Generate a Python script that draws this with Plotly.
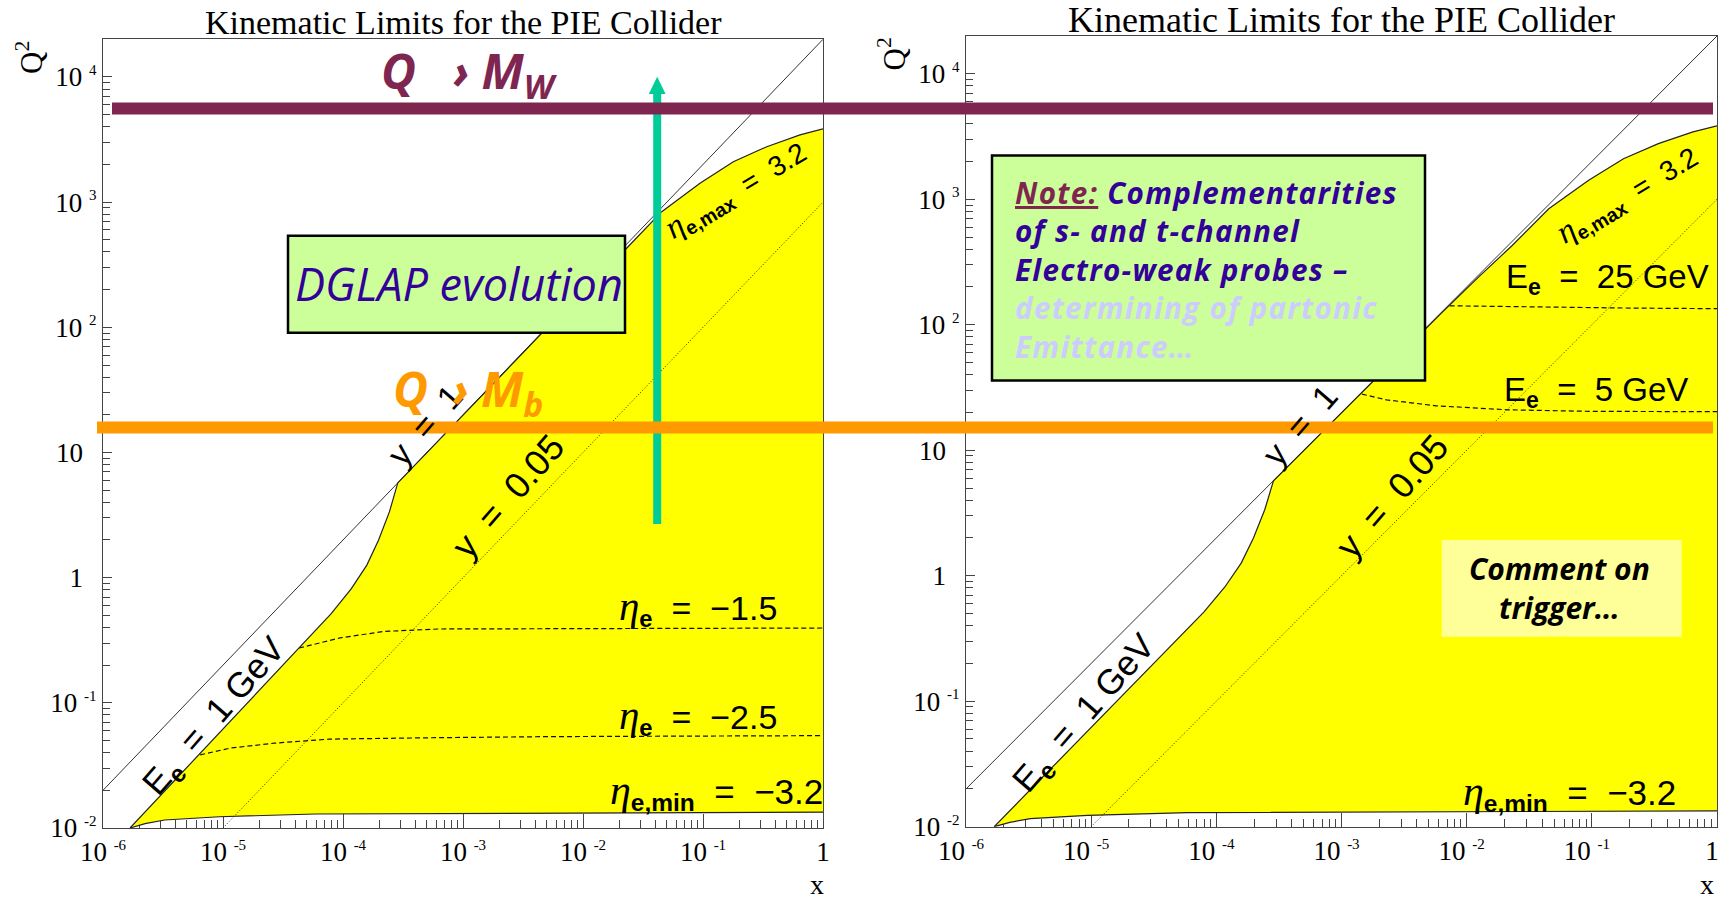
import plotly.graph_objects as go

W, H = 1722, 900
NBSP = "\u00a0"

# ---------------- kinematic curves (x, Q^2 in GeV^2) ----------------
# y = 1 limit and the y = 0.05 line
y1_x = [1e-6, 1.0]
y1_q2 = [0.02, 2.0e4]
y005_x = [1e-5, 1.0]
y005_q2 = [0.01, 1.0e3]

# low scattered-electron-energy edge (E_e = 1 GeV)
ecut_x = [1.68e-6, 3.98e-6, 1.0e-5, 2.51e-5, 4.30e-5, 7.94e-5, 1.17e-4, 1.58e-4, 1.98e-4, 2.44e-4, 2.86e-4]
ecut_q2 = [0.0100, 0.0241, 0.0617, 0.158, 0.275, 0.513, 0.813, 1.26, 2.00, 3.37, 5.71]

# upper edge: along y = 1, then the eta_max = 3.2 curve
etamax_x = [2.86e-4, 6.31e-3, 0.0126, 0.0231, 0.0453, 0.0944, 0.179, 0.340, 0.643, 1.0]
etamax_q2 = [5.71, 124.5, 243.0, 428.0, 839.0, 1416.0, 2104.0, 2773.0, 3443.0, 3846.0]

# lower edge: eta_min = -3.2 curve (from x = 1 back to the tip)
etamin_x = [1.0, 1e-3, 5.89e-5, 9.33e-6, 3.26e-6, 2.24e-6, 1.68e-6]
etamin_q2 = [0.01337, 0.01318, 0.01294, 0.0123, 0.01159, 0.01084, 0.0100]

# eta_e contours
eta15_x = [4.30e-5, 9.44e-5, 2.20e-4, 6.31e-4, 1.0]
eta15_q2 = [0.274, 0.330, 0.372, 0.389, 0.396]
eta25_x = [6.46e-6, 1.15e-5, 2.67e-5, 7.66e-5, 6.28e-4, 5.15e-3, 1.0]
eta25_q2 = [0.0384, 0.0435, 0.0476, 0.0513, 0.0527, 0.0537, 0.0547]

# scattered electron energy contours
ee25_x = [7.31e-3, 0.0428, 0.200, 1.0]
ee25_q2 = [141.6, 138.0, 135.8, 134.3]
ee5_x = [1.455e-3, 2.29e-3, 5.69e-3, 0.0211, 0.100, 1.0]
ee5_q2 = [28.0, 25.2, 22.6, 21.0, 20.4, 20.3]

# axis ticks
x_tick_vals = [1e-6, 1e-5, 1e-4, 1e-3, 1e-2, 1e-1, 1.0]
x_tick_text = ["10^-6", "10^-5", "10^-4", "10^-3", "10^-2", "10^-1", "1"]
y_tick_vals = [1e-2, 1e-1, 1.0, 10.0, 1e2, 1e3, 1e4]
y_tick_text = ["10^-2", "10^-1", "1", "10", "10^2", "10^3", "10^4"]


def rich(label, pad=""):
    if "^" in label:
        base, exp = label.split("^")
        return f"{base}{NBSP}<sup><span style='font-size:15px'>{exp}</span></sup>"
    return label + pad


def px(v):
    return v / W


def py(v):
    return 1 - v / H


x_minor = [m * 10.0 ** e for e in range(-6, 0) for m in range(2, 10)]
y_minor = [m * 10.0 ** e for e in range(-2, 5) for m in range(2, 10) if m * 10.0 ** e < 2.0e4]

accept_x = ecut_x + etamax_x[1:] + etamin_x
accept_q2 = ecut_q2 + etamax_q2[1:] + etamin_q2

fig = go.Figure()


def add_panel(xa, ya, contours):
    common = dict(xaxis=xa, yaxis=ya, hoverinfo="skip", showlegend=False)
    fig.add_trace(go.Scatter(x=accept_x, y=accept_q2, mode="lines", fill="toself",
                             fillcolor="#ffff00", line=dict(width=0, color="rgba(0,0,0,0)"), **common))
    for cx, cy in contours:
        fig.add_trace(go.Scatter(x=cx, y=cy, mode="lines",
                                 line=dict(color="#111", width=1.2, dash="5px,3px"), **common))
    fig.add_trace(go.Scatter(x=y005_x, y=y005_q2, mode="lines",
                             line=dict(color="#222", width=1, dash="1px,2px"), **common))
    fig.add_trace(go.Scatter(x=y1_x, y=y1_q2, mode="lines",
                             line=dict(color="#333", width=1), **common))
    fig.add_trace(go.Scatter(x=ecut_x + etamax_x[1:], y=ecut_q2 + etamax_q2[1:], mode="lines",
                             line=dict(color="#222", width=1.2), **common))
    fig.add_trace(go.Scatter(x=etamin_x, y=etamin_q2, mode="lines",
                             line=dict(color="#222", width=1.2), **common))


add_panel("x", "y", [(eta15_x, eta15_q2), (eta25_x, eta25_q2)])
add_panel("x2", "y2", [(ee25_x, ee25_q2), (ee5_x, ee5_q2)])


def axis_style(vals, text, minor_vals, ticklen, minorlen, pad=""):
    return dict(
        type="log", showgrid=False, zeroline=False, showline=True, mirror=True,
        automargin=False, ticklabeloverflow="allow",
        linecolor="#444", linewidth=1, ticks="inside", ticklen=ticklen, tickwidth=1,
        tickcolor="#444", layer="below traces", tickmode="array", tickvals=vals,
        ticktext=[rich(t, pad) for t in text],
        tickfont=dict(family="Liberation Serif", size=27, color="black"),
        minor=dict(ticks="inside", ticklen=minorlen, tickwidth=1, tickcolor="#444",
                   tickvals=minor_vals, showgrid=False),
    )


xl = axis_style(x_tick_vals, x_tick_text, x_minor, 14, 8)
yl = axis_style(y_tick_vals, y_tick_text, y_minor, 9, 7, pad=NBSP * 2)
fig.update_layout(
    xaxis=dict(xl, domain=[px(103), px(823)], range=[-6, 0], anchor="y"),
    yaxis=dict(yl, domain=[py(828), py(39.3)], range=[-2, 4.301], anchor="x"),
    xaxis2=dict(xl, domain=[px(966), px(1717)], range=[-6, 0], anchor="y2", ticklabelshift=-5),
    yaxis2=dict(yl, domain=[py(826.7), py(36)], range=[-2, 4.301], anchor="x2"),
)

# ---------------- overlay boxes, arrow and threshold bands ----------------
shapes = []


def rect(x0, y0, x1, y1, fill, lw):
    shapes.append(dict(type="rect", xref="paper", yref="paper", x0=px(x0), x1=px(x1),
                       y0=py(y1), y1=py(y0), fillcolor=fill,
                       line=dict(color="black", width=lw), layer="above"))


def hline(x0, x1, y, color, lw):
    shapes.append(dict(type="line", xref="paper", yref="paper", x0=px(x0), x1=px(x1),
                       y0=py(y), y1=py(y), line=dict(color=color, width=lw), layer="above"))


rect(288, 235.7, 625, 332.7, "#ccff99", 2.5)
rect(992, 155.5, 1425, 380.5, "#ccff99", 2.5)
rect(1441.7, 540, 1681.7, 636.7, "#ffff99", 0)

# upward arrow
shapes.append(dict(type="line", xref="paper", yref="paper", x0=px(657.2), x1=px(657.2),
                   y0=py(524), y1=py(92), line=dict(color="#00cc99", width=8), layer="above"))
shapes.append(dict(type="path", xref="paper", yref="paper",
                   path=f"M {px(657.2)},{py(76.7)} L {px(648.8)},{py(94)} L {px(665.6)},{py(94)} Z",
                   fillcolor="#00cc99", line=dict(width=0), layer="above"))

hline(112, 1713, 108.5, "#7f2650", 12)
hline(97, 1713, 427.5, "#ff9900", 12)

fig.update_layout(shapes=shapes)

# ---------------- text ----------------
anns = []


def text(x, y, s, size, color="black", family="Liberation Sans", angle=0, xanchor="center",
         yanchor="middle", align="center"):
    anns.append(dict(x=px(x), y=py(y), xref="paper", yref="paper", text=s, showarrow=False,
                     textangle=angle, xanchor=xanchor, yanchor=yanchor, align=align,
                     font=dict(family=family, size=size, color=color)))


def eta(size):
    return f"<span style='font-family:Liberation Serif;font-size:{size}px'><i>η</i></span>"


SP2 = NBSP * 2

title = "Kinematic Limits for the PIE Collider"
text(463.5, 22.5, title, 34, family="Liberation Serif")
text(1341.5, 20, title, 36, family="Liberation Serif")
text(30, 58, "Q<sup>2</sup>", 31, family="Liberation Serif", angle=-90)
text(891.5, 54, "Q<sup>2</sup>", 31, family="Liberation Serif", angle=-90)
text(817, 884, "x", 28, family="Liberation Serif")
text(1707, 884, "x", 28, family="Liberation Serif")

# rotated labels along the kinematic lines, left and right panel
for lx, ly, s, size in ((215, 717, f"E<sub><b>e</b></sub>{SP2}={SP2}1 GeV", 35),
                        (1085, 714, f"E<sub><b>e</b></sub>{SP2}={SP2}1 GeV", 35),
                        (508, 497, f"y{SP2}={SP2}0.05", 36),
                        (1392, 497, f"y{SP2}={SP2}0.05", 36),
                        (425, 425, f"y{SP2}={SP2}1", 34),
                        (1300, 425, f"y{SP2}={SP2}1", 34)):
    text(lx, ly, s, size, angle=-49)

text(736, 191, f"{eta(33)}<sub><b>e,max</b></sub>{SP2}={SP2}3.2", 28, angle=-31)
text(1627, 195, f"{eta(33)}<sub><b>e,max</b></sub>{SP2}={SP2}3.2", 28, angle=-31)

text(698, 607, f"{eta(41)}<sub><b>e</b></sub>{SP2}={SP2}−1.5", 34)
text(698, 716, f"{eta(41)}<sub><b>e</b></sub>{SP2}={SP2}−2.5", 34)
text(716, 791, f"{eta(42)}<sub><b>e,min</b></sub>{SP2}={SP2}−3.2", 35)
text(1569, 792, f"{eta(42)}<sub><b>e,min</b></sub>{SP2}={SP2}−3.2", 35)

text(1607, 279, f"E<sub><b>e</b></sub>{SP2}={SP2}25 GeV", 33)
text(1596, 392, f"E<sub><b>e</b></sub>{SP2}={SP2}5 GeV", 33)

# threshold and evolution annotations
text(469.5, 73, f"<b><i>Q{NBSP * 3}›{NBSP}M<sub>W</sub></i></b>", 48, color="#7f2650", family="Open Sans")
text(467.5, 392, f"<b><i>Q{NBSP * 2}›{NBSP}M<sub>b</sub></i></b>", 48, color="#ff9900", family="Open Sans")
text(459.5, 283, "<i>DGLAP evolution</i>", 45, color="#330099", family="Open Sans")

note = ("<b><i><span style='letter-spacing:1.3px'>"
        "<span style='color:#7f2650'><u>Note:</u></span> Complementarities<br>"
        "of s- and t-channel<br>"
        "Electro-weak probes –<br>"
        "<span style='color:#ccccff'>determining of partonic<br>"
        "Emittance…</span></span></i></b>")
text(1013, 269, note, 29.6, color="#330099", family="Open Sans", xanchor="left", align="left")

text(1559, 588, "<b><i>Comment on<br>trigger…</i></b>", 30, family="Open Sans")

fig.update_layout(annotations=anns)

fig.update_layout(
    width=W, height=H, margin=dict(l=0, r=0, t=0, b=0),
    paper_bgcolor="white", plot_bgcolor="white", showlegend=False,
)

fig.write_html("out.html")
